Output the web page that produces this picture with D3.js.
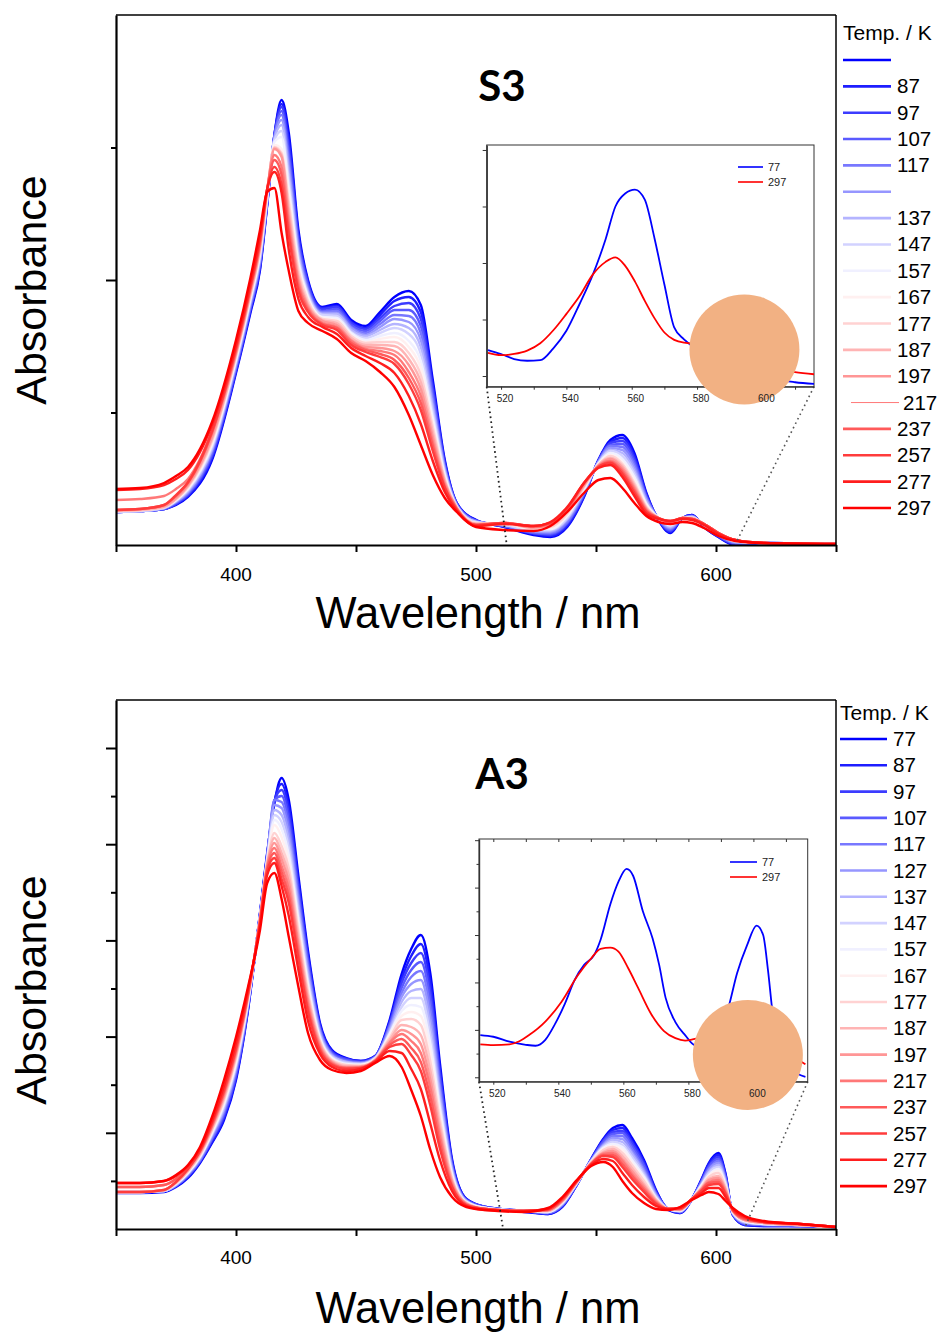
<!DOCTYPE html>
<html>
<head>
<meta charset="utf-8">
<script src="https://cdnjs.cloudflare.com/ajax/libs/d3/7.8.5/d3.min.js"></script>
<style>
html,body{margin:0;padding:0;background:#fff;}
svg{display:block;font-family:"Liberation Sans",Arial,sans-serif;}
</style>
</head>
<body>
<svg id="chart" width="939" height="1333"></svg>
<script>
// ---------------- DATA ----------------
const temps = [77,87,97,107,117,127,137,147,157,167,177,187,197,217,237,257,277,297];
const s3LegendLabels = ["","87","97","107","117","","137","147","157","167","177","187","197","217","237","257","277","297"];
const a3LegendLabels = ["77","87","97","107","117","127","137","147","157","167","177","187","197","217","237","257","277","297"];
const mainXTicks = [350,400,450,500,550,600,650];
const mainXLabels = [400,500,600];
const insetXTicks = [520,530,540,550,560,570,580,590,600,610];
const insetXLabels = [520,540,560,580,600];
const insetSeriesNames = ["77","297"];

// S3 spectra: wavelength (nm) and absorbance (mOD), one row per wavelength, one column per temperature
const s3Wavelengths = [350,360,370,375,380,390,400,406,410,413,416,419,422,426,430,436,442,448,454,460,466,472,477,482,487,492,500,512,524,531,538,545,551,556,561,566,571,576,581,586,590,595,601,608,620,650];
const s3Rows = [
[33,33,33,33,33,33,33,33,34,34,34,34,35,45,35,35,55,56],
[34,34,34,34,34,34,34,34,35,35,35,35,36,46,36,36,56,57],
[36,36,36,36,37,37,37,37,38,38,38,38,39,49,40,40,60,62],
[40,41,41,42,43,43,44,44,45,45,46,46,47,56,49,50,66,69],
[48,49,50,51,52,53,54,55,56,57,58,59,60,66,62,63,75,78],
[85,87,89,91,93,95,96,98,100,102,104,106,108,114,112,114,120,123],
[172,174,175,177,179,180,182,184,185,187,189,190,192,193,195,197,200,205],
[232,234,236,237,239,241,243,244,246,248,250,251,253,255,257,258,262,267],
[275,277,279,281,283,285,287,289,291,293,295,297,299,301,303,305,309,315],
[340,341,342,343,344,345,346,347,348,352,353,354,354,356,356,356,356,353],
[410,410,409,408,408,407,406,405,403,400,398,397,396,390,385,378,373,357],
[445,441,438,434,430,425,420,414,408,396,392,390,388,378,370,360,352,312],
[412,405,398,391,384,378,371,364,357,350,343,336,329,322,315,309,295,274],
[315,311,307,303,299,295,291,287,283,279,275,270,266,262,258,254,246,234],
[265,263,261,259,256,254,252,250,248,246,244,241,239,237,235,233,228,222],
[238,237,236,234,233,232,231,230,228,227,226,225,224,222,221,220,218,214],
[241,239,238,236,234,232,231,229,227,225,224,222,220,218,217,215,211,206],
[225,223,222,220,218,217,215,213,212,210,209,207,205,204,202,200,197,192],
[219,217,216,214,212,210,209,207,205,203,202,200,198,196,195,193,189,184],
[233,230,227,224,221,218,215,212,209,206,203,200,197,194,191,188,182,173],
[248,244,239,235,230,226,221,217,212,208,203,199,194,190,185,181,172,158],
[254,248,242,235,229,223,217,211,204,198,192,186,180,173,167,161,149,130],
[240,233,226,219,212,205,198,191,184,177,170,163,156,149,142,135,121,100],
[165,160,156,151,146,141,137,132,127,122,118,113,108,103,99,94,84,70],
[85,83,81,79,77,76,74,72,70,68,66,64,62,60,58,57,53,47],
[42,42,41,41,40,40,39,39,38,38,38,37,37,36,36,35,34,33],
[25,25,24,24,24,23,23,23,22,22,22,21,21,20,20,20,19,18],
[18,18,19,19,19,20,20,20,21,21,21,22,22,22,22,22,21,15],
[10,11,12,12,13,14,14,15,16,16,17,17,18,18,19,19,19,14],
[8,9,10,11,12,13,14,15,16,17,18,19,20,21,22,22,23,19],
[18,19,21,22,23,25,26,27,29,30,31,33,34,35,36,37,38,33],
[48,49,50,51,52,53,54,55,56,57,58,59,60,61,62,62,62,52],
[85,85,84,84,83,83,82,82,81,81,80,80,79,79,78,78,77,65],
[105,103,102,100,99,97,95,94,92,90,89,87,86,84,83,82,80,67],
[110,107,104,101,98,95,92,89,86,83,81,79,77,75,73,71,68,57],
[92,89,86,83,80,77,74,71,68,65,62,60,58,56,54,52,49,42],
[52,51,49,48,47,45,44,42,41,40,38,37,36,35,34,33,31,29],
[25,25,26,26,26,26,27,27,27,27,27,27,27,27,27,27,26,23],
[12,13,14,15,16,17,18,19,20,21,22,22,23,23,24,24,24,21],
[27,27,27,27,27,27,27,27,27,27,27,27,27,27,27,27,26,23],
[30,30,29,29,29,28,28,28,27,27,27,27,26,26,26,26,25,22],
[18,18,19,19,19,20,20,20,21,21,21,21,21,21,21,21,20,17],
[8,8,9,9,10,10,10,11,11,11,12,12,12,12,12,12,11,9],
[0,1,1,2,2,3,3,4,4,4,5,5,5,5,5,5,5,4],
[1,2,2,2,2,2,2,2,2,2,2,2,2,2,2,2,2,2],
[1,1,1,1,1,1,1,1,1,1,1,1,1,1,1,1,1,1]
];

// A3 spectra
const a3Wavelengths = [350,360,370,375,380,385,390,395,400,405,410,413,416,419,422,426,430,435,440,446,452,458,464,469,473,477,481,485,490,496,504,520,530,536,542,548,553,557,561,565,570,575,580,585,590,594,597,601,604,607,612,620,635,650];
const a3Rows = [
[36,37,37,37,37,37,37,37,37,37,37,37,37,42,42,37,46,46],
[36,37,37,37,37,37,37,37,37,37,37,37,37,42,42,37,46,46],
[37,38,38,38,38,38,38,38,39,39,39,39,39,44,44,39,48,48],
[42,43,43,43,44,44,44,45,45,46,46,46,47,50,50,47,53,54],
[51,52,53,53,54,55,55,56,56,57,58,58,59,61,61,60,63,64],
[66,67,68,68,69,70,71,72,72,73,74,75,76,77,78,78,80,82],
[86,87,89,90,91,93,94,95,96,98,99,100,102,103,104,106,108,112],
[109,111,113,115,117,119,121,123,125,127,129,131,133,135,137,139,143,149],
[149,151,153,155,158,160,162,164,166,168,171,173,175,177,179,181,186,192],
[219,220,221,222,224,225,226,227,228,229,231,232,233,234,235,236,239,242],
[316,315,315,314,314,313,313,312,312,311,311,310,310,309,308,306,304,299],
[376,375,374,373,372,371,370,369,368,367,366,365,364,362,360,358,354,346],
[426,427,428,429,429,424,419,414,409,404,396,391,386,381,376,371,366,356],
[451,445,439,433,427,421,414,407,400,392,383,376,370,363,357,350,343,330],
[429,422,415,408,402,395,388,381,374,367,361,354,347,340,333,326,313,292],
[353,347,342,336,331,325,320,314,309,303,298,292,286,281,275,270,259,242],
[278,274,270,266,262,258,253,249,245,241,237,233,229,225,221,217,208,196],
[206,204,202,200,199,197,195,193,191,189,188,186,184,182,180,178,175,169],
[179,178,177,176,175,174,173,172,171,170,169,168,167,166,165,164,162,159],
[171,170,170,169,168,167,167,166,165,164,164,163,162,161,161,160,158,156],
[168,168,167,167,166,166,165,165,164,164,163,163,162,162,161,161,160,158],
[173,173,172,172,172,171,171,171,170,170,170,169,169,168,168,168,167,166],
[209,207,205,204,202,200,198,196,195,193,191,189,187,186,184,182,178,173],
[255,250,246,241,236,232,227,222,218,213,209,204,199,195,190,185,176,162],
[280,273,266,259,252,245,238,231,224,217,210,202,195,188,181,174,160,139],
[294,285,276,267,258,249,240,231,222,213,204,194,185,176,167,158,140,113],
[255,246,237,229,220,211,202,193,185,176,167,158,149,141,132,123,105,79],
[165,159,154,148,142,137,131,125,120,114,109,103,97,92,86,80,69,52],
[70,68,66,64,62,61,59,57,55,53,51,49,47,45,43,42,38,32],
[30,30,29,29,28,28,28,27,27,26,26,26,25,25,24,24,23,22],
[22,22,22,22,21,21,21,21,21,21,20,20,20,20,20,20,19,19],
[17,18,18,18,18,18,18,18,18,18,18,18,18,18,18,18,18,17],
[15,15,16,16,16,17,17,17,17,18,18,18,19,19,19,20,20,21],
[22,23,23,24,24,25,25,26,26,27,27,28,28,29,29,30,31,32],
[44,44,45,45,45,45,46,46,46,46,47,47,47,47,48,48,48,49],
[70,70,69,69,69,68,68,68,67,67,67,66,66,65,65,65,64,63],
[90,89,88,87,85,84,83,82,81,80,79,77,76,75,74,73,70,67],
[101,99,97,95,93,91,89,87,85,83,82,80,78,76,74,72,68,62],
[104,101,98,96,93,90,87,84,82,79,76,73,70,68,65,62,56,48],
[91,88,86,83,80,77,75,72,69,66,64,61,58,55,53,50,44,36],
[69,67,65,63,60,58,56,54,52,50,48,45,43,41,39,37,32,26],
[39,38,37,36,35,34,33,32,31,30,30,29,28,27,26,25,23,20],
[19,20,20,20,20,20,20,20,20,20,20,20,20,20,20,20,20,19],
[16,16,17,17,17,18,18,18,18,19,19,19,20,20,20,21,21,22],
[30,30,30,30,30,30,30,30,30,30,30,30,30,30,30,30,30,29],
[50,49,48,48,47,46,45,44,44,43,42,41,40,40,39,38,36,34],
[66,65,63,62,60,59,57,56,54,53,52,50,49,47,46,44,41,37],
[76,74,72,70,68,66,64,62,60,58,56,53,51,49,47,45,41,35],
[55,54,52,51,50,48,47,46,44,43,42,40,39,37,36,35,32,28],
[14,14,15,15,15,16,16,16,17,17,18,18,18,19,19,19,20,21],
[4,4,5,5,6,6,7,7,8,8,9,9,9,10,10,11,12,13],
[3,3,4,4,4,5,5,5,5,6,6,6,6,7,7,7,7,8],
[3,3,3,3,4,4,4,4,4,4,4,4,4,5,5,5,5,5],
[2,2,2,2,2,2,2,2,2,2,2,2,2,2,2,2,2,2]
];

// Insets (zoom of the Q-band region), 77 K and 297 K only
const s3InsetWl   = [516,520,524,528,532,536,540,544,548,552,555,558,561,564,567,570,573,576,580,585,590,595,600,605,610,616];
const s3InsetBlue = [.46,.39,.30,.27,.28,.49,.80,1.27,1.78,2.42,3.0,3.23,3.30,3.12,2.43,1.62,.86,.65,.48,.38,.36,.22,.05,-.06,-.11,-.14];
const s3InsetRed  = [.41,.37,.39,.45,.58,.81,1.10,1.41,1.79,2.02,2.10,1.95,1.67,1.33,1.02,.77,.64,.59,.57,.55,.50,.38,.22,.12,.07,.03];

const a3InsetBlueWl = [516,520,525,530,533,536,539,542,545,548,551,553,556,558.5,561,563,566,569,571,573,576,579,582,586,589,592,595,598,601,603,604.5,606,609,612,616];
const a3InsetBlue   = [1.78,1.71,1.50,1.37,1.33,1.58,2.25,3.1,4.1,4.75,5.15,5.8,7.3,8.25,8.79,8.5,7.0,5.85,4.75,3.35,2.33,1.78,1.36,1.35,2.0,2.8,4.4,5.55,6.40,6.0,4.5,2.6,0.9,0.3,0.02];
const a3InsetRedWl  = [516,520,525,528,531,536,541,546,550,553,556,558.5,561.5,564.5,568.5,572.5,576,579,582,586,590,594,598,602,606,610,614,616];
const a3InsetRed    = [1.39,1.36,1.39,1.52,1.78,2.35,3.19,4.30,5.0,5.42,5.47,5.30,4.60,3.78,2.68,1.95,1.65,1.55,1.62,1.72,1.85,2.0,2.1,1.9,1.5,1.05,0.72,0.55];

// ---------------- DRAWING ----------------
const svg = d3.select("#chart");
const X0 = 116, X1 = 836;
const color = d3.scaleLinear().domain([0, 8.5, 17]).range(["#0000ff", "#ffffff", "#ff0000"]);
const insetColors = ["#0000ff", "#ff0000"];

const panels = [
  { name: "S3", wl: s3Wavelengths, rows: s3Rows, labels: s3LegendLabels,
    top: 15, bottom: 545, ymax: 530,
    minorTicks: [132.5, 397.5], majorTicks: [265],
    titleY: 101, xlabY: 628, tickLabelY: 581, absY: 290,
    leg: { x: 843, hy: 40, y0: 60, dy: 26.35, len: 48, tx: 897, thinIdx: 13 },
    inset: { left: 486.7, right: 814, top: 145, bottom: 386.7, xd: [515.6, 615.8], yd: [-0.189, 4.088],
             yTicks: [0,1,2,3,4], yMajorEvery: 1, topTicks: false,
             series: [[s3InsetWl, s3InsetBlue], [s3InsetWl, s3InsetRed]],
             circle: [594.5, 0.47, 55], legX: 738, legY: 167, legLen: 25, conn: [512.8, 608.3] } },
  { name: "A3", wl: a3Wavelengths, rows: a3Rows, labels: a3LegendLabels,
    top: 700, bottom: 1229, ymax: 529,
    minorTicks: [48.1, 144.3, 240.5, 336.7, 432.9], majorTicks: [96.2, 192.4, 288.6, 384.8, 481],
    titleY: 789, xlabY: 1323, tickLabelY: 1264, absY: 990,
    leg: { x: 840, hy: 720, y0: 739, dy: 26.3, len: 47, tx: 893, thinIdx: -1 },
    inset: { left: 479, right: 807.7, top: 839, bottom: 1081.7, xd: [515.6, 616.7], yd: [-0.186, 10.05],
             yTicks: [0,1,2,3,4,5,6,7,8,9,10], yMajorEvery: 2, topTicks: true,
             series: [[a3InsetBlueWl, a3InsetBlue], [a3InsetRedWl, a3InsetRed]],
             circle: [598.3, 0.94, 55], legX: 730, legY: 862, legLen: 27, conn: [511.3, 612.1] } }
];

const defs = svg.append("defs");

panels.forEach(cfg => {
  const x = d3.scaleLinear().domain([350, 650]).range([X0, X1]);
  const y = d3.scaleLinear().domain([0, cfg.ymax]).range([cfg.bottom, cfg.top]);
  const g = svg.append("g");

  defs.append("clipPath").attr("id", "clip-" + cfg.name)
    .append("rect").attr("x", X0).attr("y", cfg.top).attr("width", X1 - X0).attr("height", cfg.bottom - cfg.top + 1);

  const line = d3.line().x(d => x(d[0])).y(d => y(d[1])).curve(d3.curveMonotoneX);
  const lg = g.append("g").attr("clip-path", `url(#clip-${cfg.name})`);
  temps.forEach((t, i) => {
    const pts = cfg.wl.map((w, j) => [w, cfg.rows[j][i]]);
    lg.append("path").attr("d", line(pts)).attr("fill", "none")
      .attr("stroke", color(i)).attr("stroke-width", 2.4)
      .attr("stroke-linejoin", "round").attr("stroke-linecap", "round");
  });

  // frame top/right
  g.append("line").attr("x1", X0).attr("x2", X1).attr("y1", cfg.top).attr("y2", cfg.top).attr("stroke", "#000").attr("stroke-width", 1.5);
  g.append("line").attr("x1", X1).attr("x2", X1).attr("y1", cfg.top).attr("y2", cfg.bottom).attr("stroke", "#000").attr("stroke-width", 1.5);

  // x axis
  const ax = g.append("g").attr("transform", `translate(0,${cfg.bottom})`)
    .call(d3.axisBottom(x).tickValues(mainXTicks).tickSize(7).tickSizeOuter(0).tickFormat(""));
  ax.select(".domain").attr("stroke-width", 2.2);
  ax.selectAll(".tick line").attr("stroke-width", 2);
  g.selectAll(".xlab").data(mainXLabels).enter().append("text")
    .attr("x", d => x(d)).attr("y", cfg.tickLabelY).attr("text-anchor", "middle")
    .attr("font-size", 19).attr("fill", "#000").text(d => d);

  // y axis
  const ayMinor = g.append("g").attr("transform", `translate(${X0},0)`)
    .call(d3.axisLeft(y).tickValues(cfg.minorTicks).tickSize(5).tickSizeOuter(0).tickFormat(""));
  ayMinor.select(".domain").attr("stroke-width", 2.2);
  ayMinor.selectAll(".tick line").attr("stroke-width", 2);
  const ayMajor = g.append("g").attr("transform", `translate(${X0},0)`)
    .call(d3.axisLeft(y).tickValues(cfg.majorTicks).tickSize(10).tickSizeOuter(0).tickFormat(""));
  ayMajor.select(".domain").remove();
  ayMajor.selectAll(".tick line").attr("stroke-width", 2);

  // axis titles
  g.append("text").attr("x", (X0 + X1) / 2 + 2).attr("y", cfg.xlabY).attr("text-anchor", "middle")
    .attr("font-size", 43.5).text("Wavelength / nm");
  g.append("text").attr("transform", `translate(46,${cfg.absY}) rotate(-90)`).attr("text-anchor", "middle")
    .attr("font-size", 43).text("Absorbance");

  // panel title
  g.append("text").attr("x", 502).attr("y", cfg.titleY).attr("text-anchor", "middle")
    .attr("font-family", "Lato, 'Open Sans', sans-serif").attr("font-weight", 700)
    .attr("font-size", 42).text(cfg.name);

  // legend
  const L = cfg.leg;
  g.append("text").attr("x", L.x).attr("y", L.hy).attr("font-size", 21).text("Temp. / K");
  temps.forEach((t, i) => {
    const yy = L.y0 + i * L.dy;
    const thin = i === L.thinIdx;
    const xs = thin ? L.x + 8 : L.x;
    g.append("line").attr("x1", xs).attr("x2", xs + L.len).attr("y1", yy).attr("y2", yy)
      .attr("stroke", color(i)).attr("stroke-width", thin ? 1 : 2.6);
    g.append("text").attr("x", thin ? L.tx + 6 : L.tx).attr("y", yy + 7).attr("font-size", 20.5).text(cfg.labels[i]);
  });

  // inset
  const I = cfg.inset;
  const ix = d3.scaleLinear().domain(I.xd).range([I.left, I.right]);
  const iy = d3.scaleLinear().domain(I.yd).range([I.bottom, I.top]);
  const ig = svg.append("g");

  // dotted connectors
  ig.append("line").attr("x1", I.left).attr("y1", I.bottom).attr("x2", x(I.conn[0])).attr("y2", cfg.bottom)
    .attr("stroke", "#222").attr("stroke-width", 1.8).attr("stroke-dasharray", "1.6 3.4");
  ig.append("line").attr("x1", I.right).attr("y1", I.bottom).attr("x2", x(I.conn[1])).attr("y2", cfg.bottom - 2)
    .attr("stroke", "#555").attr("stroke-width", 1.6).attr("stroke-dasharray", "1.6 3.4");

  ig.append("rect").attr("x", I.left).attr("y", I.top).attr("width", I.right - I.left).attr("height", I.bottom - I.top)
    .attr("fill", "#fff").attr("stroke", "#333").attr("stroke-width", 1);

  defs.append("clipPath").attr("id", "iclip-" + cfg.name)
    .append("rect").attr("x", I.left).attr("y", I.top).attr("width", I.right - I.left).attr("height", I.bottom - I.top);
  const iline = d3.line().x(d => ix(d[0])).y(d => iy(d[1])).curve(d3.curveMonotoneX);
  const icg = ig.append("g").attr("clip-path", `url(#iclip-${cfg.name})`);
  I.series.forEach((s, k) => {
    const pts = s[0].map((w, j) => [w, s[1][j]]);
    icg.append("path").attr("d", iline(pts)).attr("fill", "none").attr("stroke", insetColors[k])
      .attr("stroke-width", 1.8).attr("stroke-linejoin", "round");
  });

  // inset x axis
  const ixa = ig.append("g").attr("transform", `translate(0,${I.bottom})`)
    .call(d3.axisBottom(ix).tickValues(insetXTicks).tickSize(3).tickSizeOuter(0).tickFormat(""));
  ixa.select(".domain").attr("stroke", "#333");
  ixa.selectAll(".tick line").attr("stroke", "#333");
  if (I.topTicks) {
    const ixt = ig.append("g").attr("transform", `translate(0,${I.top})`)
      .call(d3.axisBottom(ix).tickValues(insetXTicks).tickSize(3).tickSizeOuter(0).tickFormat(""));
    ixt.select(".domain").remove();
    ixt.selectAll(".tick line").attr("stroke", "#333");
  }

  // inset y axis
  const iya = ig.append("g").attr("transform", `translate(${I.left},0)`)
    .call(d3.axisLeft(iy).tickValues(I.yTicks).tickSize(4).tickSizeOuter(0).tickFormat(""));
  iya.select(".domain").attr("stroke", "#333").attr("stroke-width", 1.4);
  iya.selectAll(".tick line").attr("stroke", "#333")
    .attr("x2", d => (d % I.yMajorEvery === 0) ? -4 : -2.5);

  // inset legend
  insetSeriesNames.forEach((n, k) => {
    const yy = I.legY + k * 15;
    ig.append("line").attr("x1", I.legX).attr("x2", I.legX + I.legLen).attr("y1", yy).attr("y2", yy)
      .attr("stroke", insetColors[k]).attr("stroke-width", 1.6);
    ig.append("text").attr("x", I.legX + I.legLen + 5).attr("y", yy + 4).attr("font-size", 11).attr("fill", "#222").text(n);
  });

  // photo placeholder circle
  ig.append("circle").attr("cx", ix(I.circle[0])).attr("cy", iy(I.circle[1])).attr("r", I.circle[2])
    .attr("fill", "#f2b183");

  // inset tick labels (drawn above the circle, as in the original)
  ig.selectAll(".ixl").data(insetXLabels).enter().append("text")
    .attr("x", d => ix(d) + 4).attr("y", I.bottom + 15).attr("text-anchor", "middle")
    .attr("font-size", 10).attr("fill", "#222").text(d => d);
});
</script>
</body>
</html>
